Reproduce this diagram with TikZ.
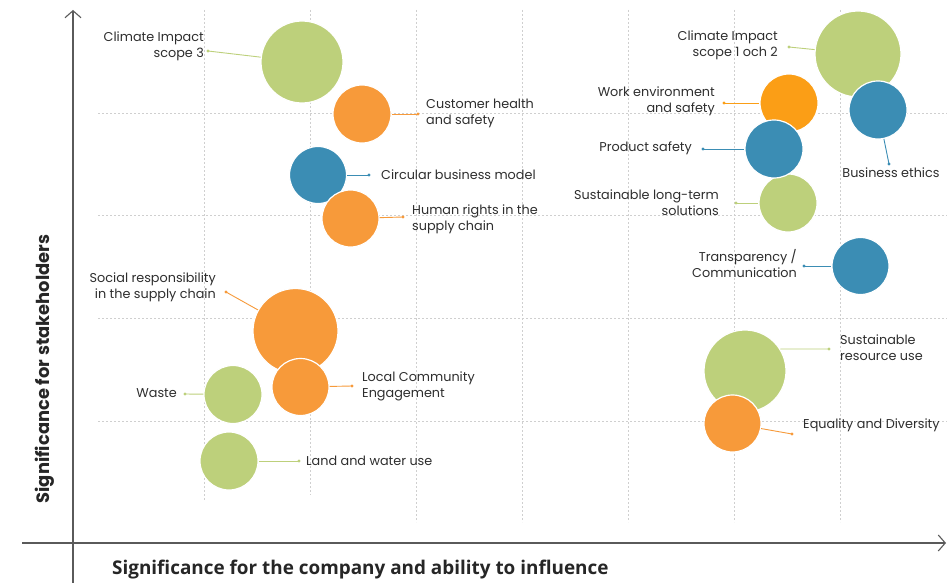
\documentclass[tikz,border=0pt]{standalone}
\usepackage{fontspec}
\setmainfont{Poppins}
\newfontfamily\axfont{Open Sans}
\usetikzlibrary{arrows.meta}
\definecolor{cgreen}{HTML}{BDD07B}
\definecolor{corange}{HTML}{F79A3A}
\definecolor{cbright}{HTML}{FB9E16}
\definecolor{cblue}{HTML}{3B8DB4}
\definecolor{ctext}{HTML}{2E2E2E}
\definecolor{caxis}{HTML}{5A5A5A}
\definecolor{cgrid}{HTML}{CFCFCF}
\begin{document}
\begin{tikzpicture}[x=1pt,y=-1pt,
  bub/.style={circle, draw=white, line width=1.2pt, inner sep=0pt, minimum size=#1},
  lbl/.style={font=\fontsize{12.8}{16}\selectfont, text=ctext, inner sep=0pt},
  lblr/.style={lbl, anchor=east, align=right},
  lbll/.style={lbl, anchor=west, align=left},
  con/.style={draw=#1, line width=0.9pt},
  gridline/.style={draw=cgrid, line width=0.6pt, dash pattern=on 2pt off 2pt},
  axisline/.style={draw=caxis, line width=1.1pt, -{Straight Barb[length=7pt,width=16pt,line width=1.1pt]}}
]
\useasboundingbox (0,0) rectangle (947,583);
\fill[white] (0,0) rectangle (947,583);

% grid
\foreach \yy in {113,215,318,421} \draw[gridline] (98,\yy) -- (947,\yy);
\draw[gridline] (204,10) -- (204,500);
\draw[gridline] (310,10) -- (310,495);
\foreach \xx in {416,522,628,734,840} \draw[gridline] (\xx,10) -- (\xx,522);

% axes
\draw[axisline] (73,583) -- (73,10);
\draw[axisline] (22,543) -- (946,543);
\node[font=\bfseries\fontsize{17.9}{20}\selectfont, text=black!85, rotate=90] (ylab) at (45,369) {Significance for stakeholders};
\node[font=\axfont\bfseries\fontsize{18.9}{22}\selectfont, text=black!85, anchor=west, inner sep=0pt] (xlab) at (112,570) {Significance for the company and ability to influence};

% dot coordinates
\coordinate (d1) at (208,51);
\coordinate (d2) at (418,114);
\coordinate (d3) at (369,175);
\coordinate (d4) at (403,217);
\coordinate (d5) at (226,292);
\coordinate (d6) at (352,386);
\coordinate (d7) at (185,394);
\coordinate (d8) at (299,461);
\coordinate (d9) at (789,47);
\coordinate (d10) at (724,103);
\coordinate (d11) at (703,149);
\coordinate (d12) at (889,164);
\coordinate (d13) at (736,203);
\coordinate (d14) at (804,266);
\coordinate (d15) at (829,349);
\coordinate (d16) at (792,434);

% bubbles (in drawing order)
\node[bub=82pt, fill=cgreen] (b1) at (302,62) {};
\node[bub=58pt, fill=corange] (b2) at (362,114) {};
\node[bub=57pt, fill=cblue] (b3) at (318,175) {};
\node[bub=57pt, fill=corange] (b4) at (350.5,218.5) {};
\node[bub=85pt, fill=corange] (b5) at (295.5,331) {};
\node[bub=57pt, fill=corange] (b6) at (300.5,387) {};
\node[bub=58pt, fill=cgreen] (b7) at (233,394.5) {};
\node[bub=58pt, fill=cgreen] (b8) at (229,461) {};
\node[bub=86pt, fill=cgreen] (b9) at (858,54) {};
\node[bub=58pt, fill=cbright] (b10) at (789,103) {};
\node[bub=58pt, fill=cblue] (b12) at (878,110) {};
\node[bub=58pt, fill=cgreen] (b13) at (788,203) {};
\node[bub=58pt, fill=cblue] (b11) at (774,149) {};
\node[bub=57pt, fill=cblue] (b14) at (860.5,266) {};
\node[bub=82pt, fill=cgreen] (b15) at (745,371) {};
\node[bub=57pt, fill=corange] (b16) at (732.5,423.5) {};

% connectors
\draw[con=cgreen] (d1) -- (b1);
\draw[con=corange] (d2) -- (b2);
\draw[con=cblue] (d3) -- (b3);
\draw[con=corange] (d4) -- (b4);
\draw[con=corange] (d5) -- (b5);
\draw[con=corange] (d6) -- (b6);
\draw[con=cgreen] (d7) -- (b7);
\draw[con=cgreen] (d8) -- (b8);
\draw[con=cgreen] (d9) -- (b9);
\draw[con=cbright] (d10) -- (b10);
\draw[con=cblue] (d11) -- (b11);
\draw[con=cblue] (d12) -- (b12);
\draw[con=cgreen] (d13) -- (b13);
\draw[con=cblue] (d14) -- (b14);
\draw[con=cgreen] (d15) -- (b15.32.4);
\draw[con=corange] (d16) -- (b16);

% dots
\foreach \d/\c in {d1/cgreen,d2/corange,d3/cblue,d4/corange,d5/corange,d6/corange,d7/cgreen,d8/cgreen,d9/cgreen,d10/cbright,d11/cblue,d12/cblue,d13/cgreen,d14/cblue,d15/cgreen,d16/corange}
  \fill[\c] (\d) circle (1.6pt);

% labels
\node[lblr] (t1) at (204,46.5) {Climate Impact\\scope 3};
\node[lbll] (t2) at (426,113.5) {Customer health\\and safety};
\node[lbll] (t3) at (381,175) {Circular business model};
\node[lbll] (t4) at (412,219) {Human rights in the\\supply chain};
\node[lblr] (t5) at (216,287.5) {Social responsibility\\in the supply chain};
\node[lbll] (t6) at (362,386) {Local Community\\Engagement};
\node[lblr] (t7) at (177,393) {Waste};
\node[lbll] (t8) at (306,461) {Land and water use};
\node[lblr] (t9) at (778,45) {Climate Impact\\scope 1 och 2};
\node[lblr] (t10) at (715,101.5) {Work environment\\and safety};
\node[lblr] (t11) at (692,148) {Product safety};
\node[lbl] (t12) at (891,173) {Business ethics};
\node[lblr] (t13) at (719,203) {Sustainable long-term\\solutions};
\node[lblr] (t14) at (797,264) {Transparency /\\Communication};
\node[lbll] (t15) at (840,348) {Sustainable\\resource use};
\node[lbll] (t16) at (803,425) {Equality and Diversity};
\end{tikzpicture}
\end{document}
